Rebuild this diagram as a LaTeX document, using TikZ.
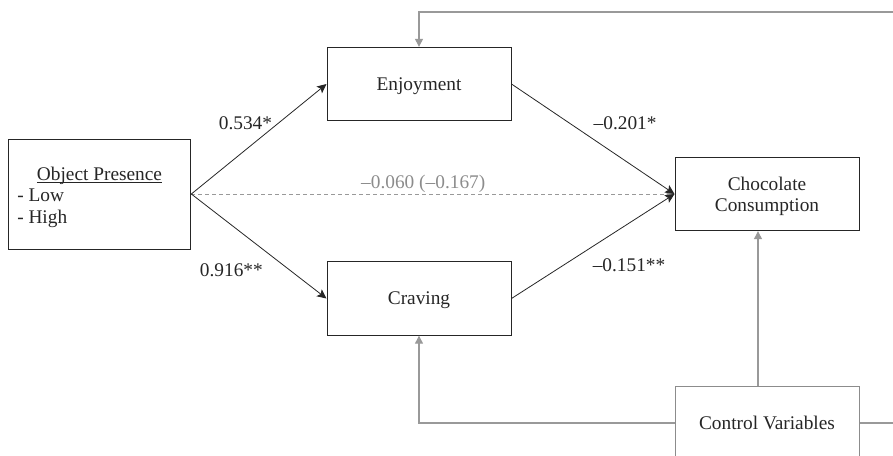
\documentclass[tikz,border=0pt]{standalone}
\usepackage{fontspec}
\setmainfont{Liberation Serif}
\usetikzlibrary{arrows.meta,positioning}

\tikzstyle{box} = [draw=black!85,line width=0.75pt,minimum width=138pt,minimum height=55pt,inner sep=0pt,align=center,text depth=0pt,text=black!85]
\tikzstyle{control box} = [box,draw=black!45]
\tikzstyle{edge} = [draw=black!85,line width=0.6pt,-{Stealth[length=7pt,width=6.5pt,inset=1.5pt]}]
\tikzstyle{direct edge} = [draw=black!40,line width=0.6pt,dash pattern=on 3pt off 2.25pt,-{Triangle[length=6pt,width=5pt]}]
\tikzstyle{control edge} = [draw=black!40,line width=0.8pt,-{Triangle[length=6pt,width=6pt]}]
\tikzstyle{weight} = [inner sep=0pt,text=black!85]

\begin{document}
\begin{tikzpicture}[x=0.75pt,y=-0.75pt,font=\fontsize{14.5}{16.5}\selectfont]
     \clip (0,0) rectangle (893,455);
     % the independent variable
     \node[box,minimum width=137pt,minimum height=82.5pt] (presence) at (99.5,194) {};
     \node[weight,anchor=base] (presence title) at (99.5,180) {\underline{\smash{Object Presence}}};
     \node[weight,anchor=west,align=left] (presence levels) at (17,208) {- Low\\- High};

     % mediators and outcome
     \foreach \pos/\name/\text in {{(419,84)/enjoyment/Enjoyment}, {(419,298.5)/craving/Craving},
       {(767,194)/chocolate/{Chocolate\\[-0.5pt]Consumption}}}
     \node[box] (\name) at \pos {\text};
     \node[control box] (control) at (767,423) {Control Variables};

     % paths with their coefficients
     \path[direct edge] (presence.east) -- node[weight,pos=0.48,anchor=south,yshift=1pt,text=black!45] {\textendash0.060 (\textendash0.167)} (chocolate.west);
     \path[edge] (presence.east) -- node[weight,pos=0.6,anchor=south east,yshift=-1.5pt] {0.534*} (enjoyment.west);
     \path[edge] (presence.east) -- node[weight,pos=0.65,anchor=north east,xshift=-12pt,yshift=-1pt] {0.916**} (craving.west);
     \path[edge] (enjoyment.east) -- node[weight,pos=0.42,anchor=south west,xshift=10pt] {\textendash0.201*} (chocolate.west);
     \path[edge] (craving.east) -- node[weight,pos=0.39,anchor=north west,xshift=13pt] {\textendash0.151**} (chocolate.west);

     % controls
     \coordinate (right edge) at (893,423);
     \coordinate (top right) at (893,12);
     \path[control edge] (control.west) -| (craving.south);
     \path[control edge] ([xshift=-6.75pt]control.north) -- ([xshift=-6.75pt]chocolate.south);
     \path[control edge,-] (control.east) -- (right edge);
     \path[control edge] (top right) -| (enjoyment.north);
\end{tikzpicture}
\end{document}
